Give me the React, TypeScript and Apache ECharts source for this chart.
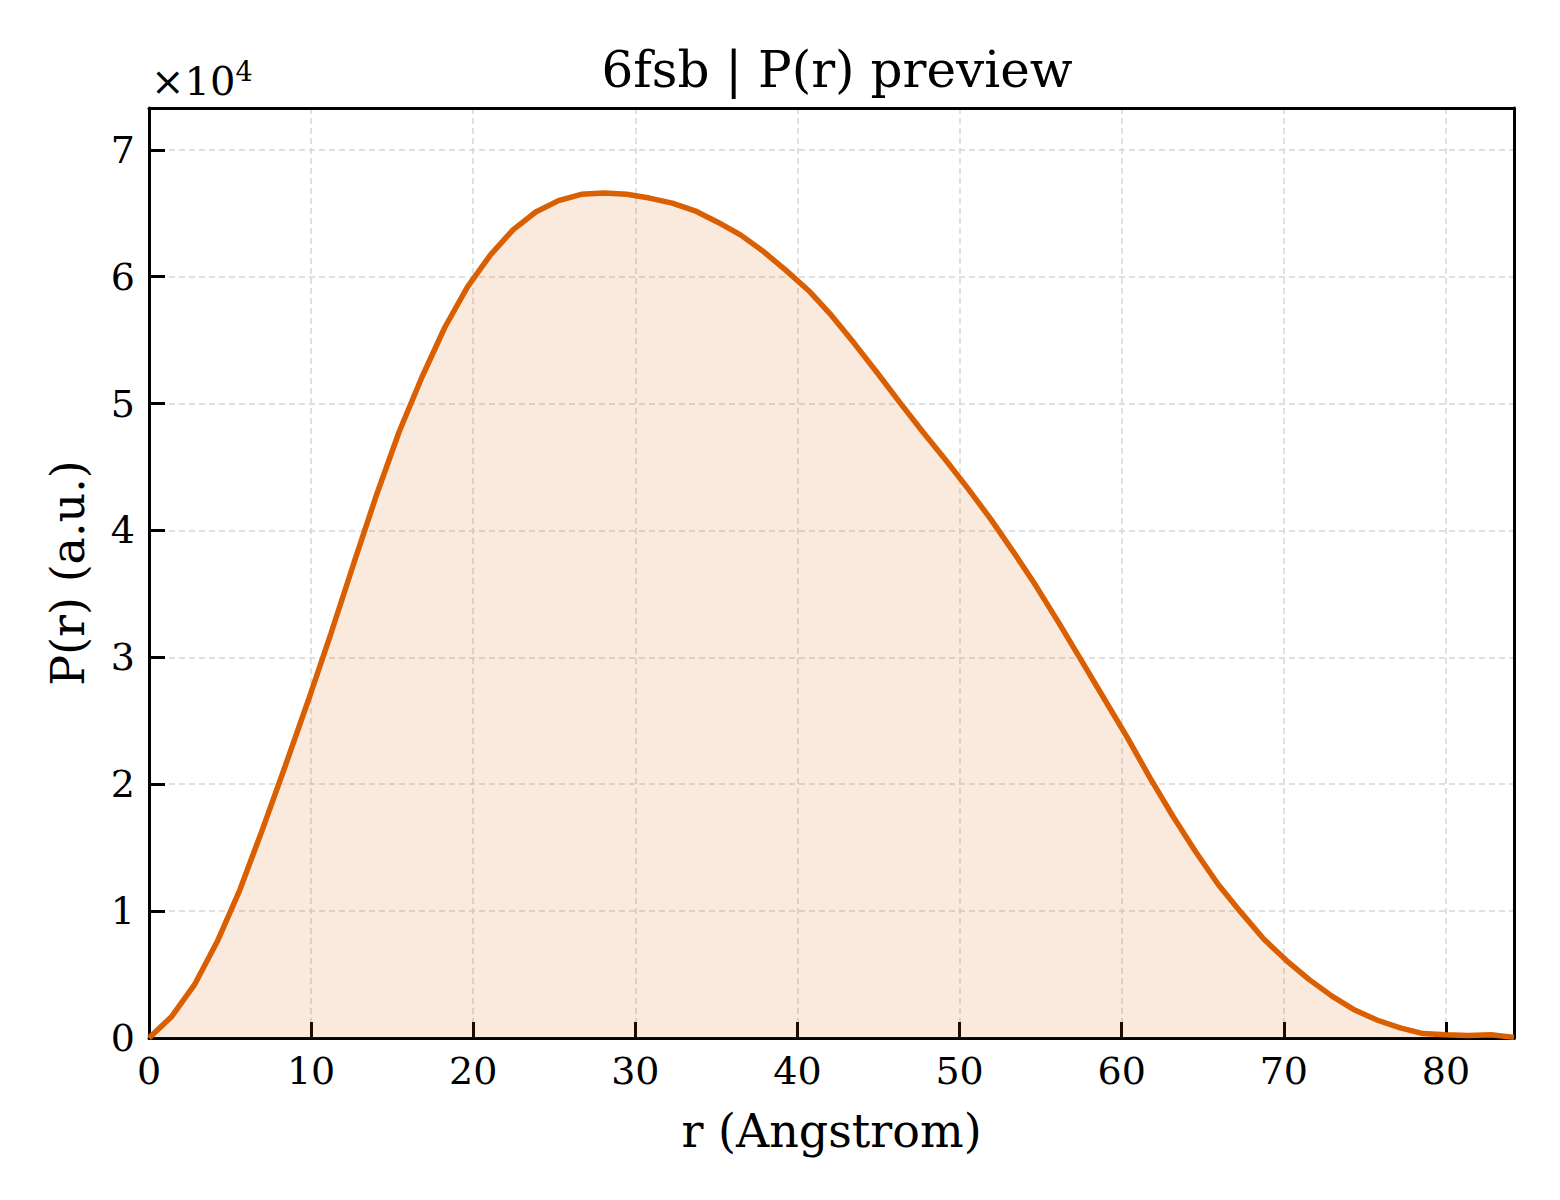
// P(r) preview chart (pair distance distribution)
import * as echarts from 'echarts'
import type { EChartsOption } from 'echarts'
import { useEffect, useRef } from 'react'

const rStep = 84.2 / 60
const rValues: number[] = Array.from({ length: 61 }, (_, i) => +(i * rStep).toFixed(3))

// P(r)
const prValues: number[] = [
  0, 1700, 4200, 7600, 11700, 16500, 21500, 26600, 31900, 37400,
  42800, 47800, 52100, 56000, 59200, 61700, 63700, 65100, 66000, 66500,
  66600, 66500, 66200, 65800, 65200, 64300, 63300, 62000, 60500, 58900,
  56950, 54750, 52450, 50100, 47800, 45600, 43300, 40900, 38300, 35600,
  32700, 29700, 26700, 23700, 20500, 17500, 14700, 12100, 9900, 7800,
  6100, 4600, 3300, 2200, 1400, 800, 350, 250, 200, 250,
  50,
]

const xTicks = { min: 0, max: 84.2, interval: 10 }
const yTicks = { min: 0, max: 73300, interval: 10000 }

const FONT = 'DejaVu Serif'
const LINE = '#d95f02'

const PrChart = () => {
  const chartRef = useRef<HTMLDivElement | null>(null)
  useEffect(() => {
    if (!chartRef.current) return
    document.body.style.margin = '0'
    const myChart = echarts.init(chartRef.current, null, { renderer: 'svg' })
    const gridLine = { show: true, lineStyle: { color: '#d6d6d6', width: 1.5, type: [6, 4] as number[] } }
    const spine = { show: true, lineStyle: { color: '#000', width: 3 } }
    const tick = { show: true, inside: true, length: 16, lineStyle: { color: '#000', width: 3 } }
    // top/right frame only
    const frame = {
      type: 'value' as const,
      axisLine: { ...spine, onZero: false },
      axisTick: { show: false },
      axisLabel: { show: false },
      splitLine: { show: false },
    }
    const option: EChartsOption = {
      animation: false,
      backgroundColor: '#fff',
      textStyle: { fontFamily: FONT },
      title: {
        text: '6fsb | P(r) preview',
        left: 832,
        top: 40,
        textAlign: 'center',
        textStyle: { fontFamily: FONT, fontSize: 50, fontWeight: 'normal', color: '#000' },
      },
      graphic: [
        {
          type: 'text',
          left: 151,
          top: 58,
          style: {
            text: '×10{s|4}',
            font: `40px "${FONT}"`,
            fill: '#000',
            rich: { s: { fontSize: 27, fontFamily: FONT, verticalAlign: 'top', padding: [0, 0, 18, 0] } },
          } as any,
        },
      ],
      grid: { left: 149, right: 46, top: 108, bottom: 162 },
      xAxis: [
        {
          type: 'value',
          ...xTicks,
          name: 'r (Angstrom)',
          nameLocation: 'middle',
          nameGap: 70,
          nameTextStyle: { fontFamily: FONT, fontSize: 46, color: '#000' },
          axisLine: { ...spine, onZero: false },
          axisTick: tick,
          axisLabel: { fontFamily: FONT, fontSize: 38, color: '#000', margin: 14, showMaxLabel: false },
          splitLine: gridLine,
        },
        { ...frame, position: 'top', ...xTicks },
      ],
      yAxis: [
        {
          type: 'value',
          ...yTicks,
          name: 'P(r) (a.u.)',
          nameLocation: 'middle',
          nameGap: 58,
          nameTextStyle: { fontFamily: FONT, fontSize: 46, color: '#000' },
          axisLine: { ...spine, onZero: false },
          axisTick: tick,
          axisLabel: {
            fontFamily: FONT, fontSize: 38, color: '#000', margin: 14, showMaxLabel: false,
            formatter: (v: number) => String(v / 10000),
          },
          splitLine: gridLine,
        },
        { ...frame, position: 'right', ...yTicks },
      ],
      series: [
        {
          type: 'line',
          data: rValues.map((r, i) => [r, prValues[i]]),
          showSymbol: false,
          lineStyle: { color: LINE, width: 5.5 },
          areaStyle: { color: LINE, opacity: 0.13 },
          z: 3,
        },
      ],
    }
    myChart.setOption(option)
    return () => {
      myChart.dispose()
    }
  }, [])
  return <div ref={chartRef} style={{ width: '1560px', height: '1200px' }}></div>
}

export default function App() {
  return <PrChart />
}
